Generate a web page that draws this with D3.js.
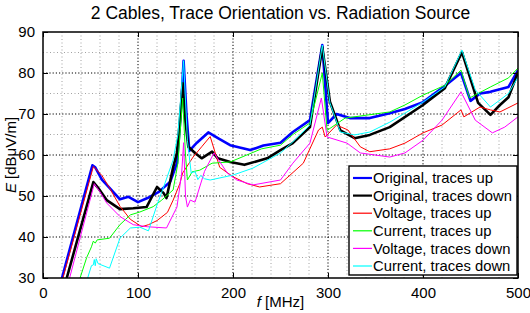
<!DOCTYPE html>
<html>
<head>
<meta charset="utf-8">
<script src="https://cdn.jsdelivr.net/npm/d3@7"></script>
<style>
  body { margin: 0; background: #fff; }
  text { font-family: "Liberation Sans", Arial, Helvetica, sans-serif; fill: #000; }
</style>
</head>
<body>
<div id="chart"></div>
<script>
// [f in MHz, E in dBuV/m]
var origUp = [[20,30],[52,57.5],[55,57],[62,54],[70,52],[81,49.2],[90,49.8],[100,48.5],[110,49.5],[122,51],[134,53.5],
  [141,58],[145,70],[148,83],[151,70],[154,61],[162,63],[174,65.5],[185,64],[197,62.4],[218,61.2],[232,62.3],[250,63],
  [263,65.6],[281,68.5],[294,86.8],[300,67.8],[309,70],[323,69],[344,69],[365,70.2],[381,71.2],[400,72.9],[420,76.3],
  [440,80],[450,73.2],[460,75],[471,75.4],[490,76.6],[500,80.7]];
var origDown = [[25,30],[53,53.4],[58,52],[67,49],[81,46.8],[95,47],[109,47.3],[120,52.2],[127,50.7],[130,49.5],[137,57],
  [141,60.5],[144,68],[147,77.5],[150,68],[153,62],[160,60.5],[167,59.2],[178,60.8],[184,59.2],[197,58.3],[212,57.6],
  [236,59.2],[250,61.2],[263,62.9],[281,66.8],[294,86.3],[302,73],[313,66],[328,64.1],[344,64.9],[365,66.8],[400,72.2],
  [423,76.3],[441,85.1],[458,72.7],[471,69.8],[481,72.2],[490,74.1],[500,80.2]];
var voltUp = [[21,30],[53,57.2],[62,55],[70,52],[81,47.5],[92,44.3],[104,42.5],[111,43],[120,44],[131,46],[137,49],
  [144,53],[147,55.6],[158,59.5],[167,62],[176,64.5],[186,57],[200,54.7],[215,53],[228,52.2],[250,53],[274,58],
  [290,66.1],[294,66.8],[297,64.4],[309,67.3],[321,66.1],[334,62],[344,60.8],[365,61.5],[381,62.9],[400,65.4],
  [420,67.3],[440,71],[443,69.3],[460,71.7],[471,71],[481,70.5],[500,72.7]];
var currUp = [[39,30],[46,35],[51,37.6],[53,39],[55,38.5],[57,39.3],[70,39.7],[81,43],[92,45.4],[102,46.1],[116,47.4],
  [125,49],[137,51.5],[142,58],[147,73.9],[150,60],[152,53.9],[157,55.9],[165,56.3],[178,58],[197,58.3],[230,61.5],
  [250,62.4],[263,65],[281,67.8],[294,80],[299,66],[318,69],[365,70.5],[381,72.2],[400,74.6],[423,77],[440,80.7],
  [449,73.9],[471,76.6],[490,78.8],[500,81.2]];
var voltDown = [[28,30],[54,53],[60,51],[67,48.3],[81,45],[95,43],[110,42.5],[130,42.2],[141,47.3],[146,55.6],[148,63],
  [150,50],[152,47.3],[155,49],[160,48.5],[170,56],[180,60.5],[194,55.6],[204,53.9],[221,52.7],[250,53.9],[263,58],
  [281,62.9],[293,73.9],[299,64.4],[320,62.9],[334,60.5],[365,59.5],[381,60.5],[400,63.6],[420,68.5],[440,75.4],
  [455,68.5],[473,65.4],[486,66.8],[500,69.3]];
var currDown = [[47,30],[51,33],[53,33.2],[54,34.5],[55,33],[56,34.7],[58,33.5],[70,32.4],[81,39.7],[92,42.2],[102,42.4],
  [111,41.5],[120,47.8],[127,52.2],[137,58.8],[142,65],[148,83],[152,63.6],[156,55.6],[160,56],[163,54],[166,55],
  [170,54.2],[176,53.9],[200,55.1],[221,56.8],[250,60.5],[263,63.2],[281,67.3],[294,86.8],[302,72.7],[313,65.6],
  [328,64.9],[344,65.6],[365,68],[381,70.2],[400,72.9],[423,76.6],[441,85.6],[455,75.9],[471,71.7],[481,73.4],
  [490,75],[500,79]];

var seriesNames = ['Original, traces up', 'Original, traces down', 'Voltage, traces up',
  'Current, traces up', 'Voltage, traces down', 'Current, traces down'];
var seriesData = [origUp, origDown, voltUp, currUp, voltDown, currDown];
var colors = ['#0000ff', '#000000', '#ff0000', '#00ff00', '#ff00ff', '#00ffff'];
var widths = [2.6, 2.6, 1, 1, 1, 1];

var xTicks = [0, 100, 200, 300, 400, 500];
var yTicks = [30, 40, 50, 60, 70, 80, 90];

var width = 530, height = 313,
    margin = {top: 32, right: 12, bottom: 35, left: 43};
var plotW = width - margin.left - margin.right,
    plotH = height - margin.top - margin.bottom;

var svg = d3.select('#chart').append('svg')
  .attr('width', width)
  .attr('height', height);

var x = d3.scaleLinear().domain([0, 500]).range([0, plotW]);
var y = d3.scaleLinear().domain([30, 90]).range([plotH, 0]);

var g = svg.append('g')
  .attr('transform', 'translate(' + margin.left + ',' + margin.top + ')');

// minor grid
g.append('g').selectAll('line')
  .data(d3.range(0, 501, 20).filter(function(d) { return d % 100 !== 0; }))
  .enter().append('line')
  .attr('x1', x).attr('x2', x).attr('y1', 0).attr('y2', plotH)
  .attr('stroke', '#8a8a8a').attr('stroke-width', 0.8).attr('stroke-dasharray', '1,2.5');
g.append('g').selectAll('line')
  .data(d3.range(35, 90, 10))
  .enter().append('line')
  .attr('y1', y).attr('y2', y).attr('x1', 0).attr('x2', plotW)
  .attr('stroke', '#8a8a8a').attr('stroke-width', 0.8).attr('stroke-dasharray', '1,2.5');

// major grid
g.append('g').selectAll('line')
  .data(xTicks.slice(1, -1))
  .enter().append('line')
  .attr('x1', x).attr('x2', x).attr('y1', 0).attr('y2', plotH)
  .attr('stroke', '#000').attr('stroke-width', 1).attr('stroke-dasharray', '1.2,2');
g.append('g').selectAll('line')
  .data(yTicks.slice(1, -1))
  .enter().append('line')
  .attr('y1', y).attr('y2', y).attr('x1', 0).attr('x2', plotW)
  .attr('stroke', '#000').attr('stroke-width', 1).attr('stroke-dasharray', '1.2,2');

// data lines
svg.append('defs').append('clipPath').attr('id', 'clip')
  .append('rect').attr('width', plotW).attr('height', plotH);

var line = d3.line()
  .x(function(d) { return x(d[0]); })
  .y(function(d) { return y(d[1]); });

g.append('g').attr('clip-path', 'url(#clip)')
  .selectAll('path')
  .data(seriesData)
  .enter().append('path')
  .attr('d', line)
  .attr('fill', 'none')
  .attr('stroke', function(d, i) { return colors[i]; })
  .attr('stroke-width', function(d, i) { return widths[i]; })
  .attr('stroke-linejoin', 'round');

// axes, ticks inward
var xAxis = d3.axisBottom(x).tickValues(xTicks).tickSizeInner(-5).tickSizeOuter(0).tickPadding(9);
var yAxis = d3.axisLeft(y).tickValues(yTicks).tickSizeInner(-5).tickSizeOuter(0).tickPadding(8);

var gx = g.append('g').attr('transform', 'translate(0,' + plotH + ')').call(xAxis);
var gy = g.append('g').call(yAxis);
g.append('g').call(d3.axisTop(x).tickValues(xTicks).tickSizeInner(-5).tickSizeOuter(0).tickFormat(''));
g.append('g').attr('transform', 'translate(' + plotW + ',0)')
  .call(d3.axisRight(y).tickValues(yTicks).tickSizeInner(-5).tickSizeOuter(0).tickFormat(''));
g.selectAll('.domain').remove();
g.selectAll('.tick text').style('font-size', '15px').attr('font-family', null);
gx.selectAll('.tick text').attr('dy', '0.71em');

g.append('rect')
  .attr('width', plotW).attr('height', plotH)
  .attr('fill', 'none').attr('stroke', '#000').attr('stroke-width', 1.5);

// labels
svg.append('text')
  .attr('x', margin.left + plotW / 2).attr('y', 19)
  .attr('text-anchor', 'middle').style('font-size', '17.5px')
  .text('2 Cables, Trace Orientation vs. Radiation Source');

var xl = svg.append('text')
  .attr('x', margin.left + plotW / 2).attr('y', 307)
  .attr('text-anchor', 'middle').style('font-size', '15px');
xl.append('tspan').attr('font-style', 'italic').text('f');
xl.append('tspan').text(' [MHz]');

var yl = svg.append('text')
  .attr('transform', 'translate(16,' + (margin.top + plotH / 2) + ') rotate(-90)')
  .attr('text-anchor', 'middle').style('font-size', '15px');
yl.append('tspan').attr('font-style', 'italic').text('E');
yl.append('tspan').text(' [dB\u03bcV/m]');

// legend
var lg = svg.append('g').attr('transform', 'translate(349,166)');
lg.append('rect')
  .attr('width', 168).attr('height', 109)
  .attr('fill', '#fff').attr('stroke', '#000').attr('stroke-width', 1.4);
var items = lg.selectAll('.item')
  .data(seriesNames)
  .enter().append('g')
  .attr('transform', function(d, i) { return 'translate(0,' + (12 + i * 17.6) + ')'; });
items.append('line')
  .attr('x1', 4).attr('x2', 23)
  .attr('stroke', function(d, i) { return colors[i]; })
  .attr('stroke-width', function(d, i) { return widths[i] > 1 ? 2.2 : 1.2; });
items.append('text')
  .attr('x', 24).attr('dy', '0.35em')
  .style('font-size', '14.8px')
  .text(function(d) { return d; });
</script>
</body>
</html>
